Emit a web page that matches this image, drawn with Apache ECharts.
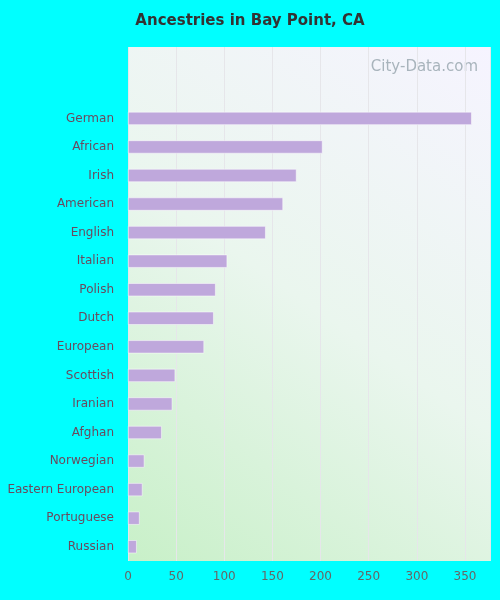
<!DOCTYPE html>
<html>
<head>
<meta charset="utf-8">
<script src="https://cdn.jsdelivr.net/npm/echarts@6/dist/echarts.min.js"></script>
<style>html,body{margin:0;padding:0;background:#00ffff;}#chart{width:500px;height:600px;}</style>
</head>
<body>
<div id="chart"></div>
<script>
var categories = [' ', '  ', 'German', 'African', 'Irish', 'American', 'English', 'Italian', 'Polish', 'Dutch',
    'European', 'Scottish', 'Iranian', 'Afghan', 'Norwegian', 'Eastern European', 'Portuguese', 'Russian'];
var values = [null, null, 357, 202, 175, 161, 143, 103, 91, 89, 79, 49, 46, 35, 17, 15, 12, 9];
var ticks = [0, 50, 100, 150, 200, 250, 300, 350];

var chart = echarts.init(document.getElementById('chart'));
chart.setOption({
    backgroundColor: '#00ffff',
    title: {
        text: 'Ancestries in Bay Point, CA',
        left: 'center',
        top: 9,
        textStyle: {fontFamily: 'DejaVu Sans', fontSize: 15, fontWeight: 'bold', color: '#333'}
    },
    graphic: [{
        type: 'text', right: 22, top: 60,
        style: {text: 'City-Data.com', fill: '#a8b4bc', font: '15px "DejaVu Sans"'}
    }],
    grid: {
        left: 128, right: 10, top: 47, bottom: 39,
        show: true, borderWidth: 0,
        backgroundColor: new echarts.graphic.LinearGradient(0, 1, 1, 0, [
            {offset: 0, color: '#c8f0c8'},
            {offset: 0.5, color: '#eaf6ee'},
            {offset: 1, color: '#f6f4ff'}
        ])
    },
    xAxis: {
        type: 'value', min: 0, max: 376, interval: 50,
        axisLine: {show: false}, axisTick: {show: false},
        splitLine: {lineStyle: {color: '#e6e6ea'}},
        axisLabel: {color: '#666', fontSize: 12, fontFamily: 'DejaVu Sans', margin: 10,
            formatter: function (v) { return ticks.indexOf(v) >= 0 ? v : ''; }}
    },
    yAxis: {
        type: 'category', data: categories, inverse: true,
        axisLine: {show: false}, axisTick: {show: false},
        axisLabel: {color: '#6a4a5e', fontSize: 12, fontFamily: 'DejaVu Sans', margin: 14}
    },
    series: [{
        type: 'bar', data: values, barWidth: 13,
        itemStyle: {color: '#bfa8dc', borderColor: '#ffffff', borderWidth: 0.5},
        silent: true
    }]
});
</script>
</body>
</html>
